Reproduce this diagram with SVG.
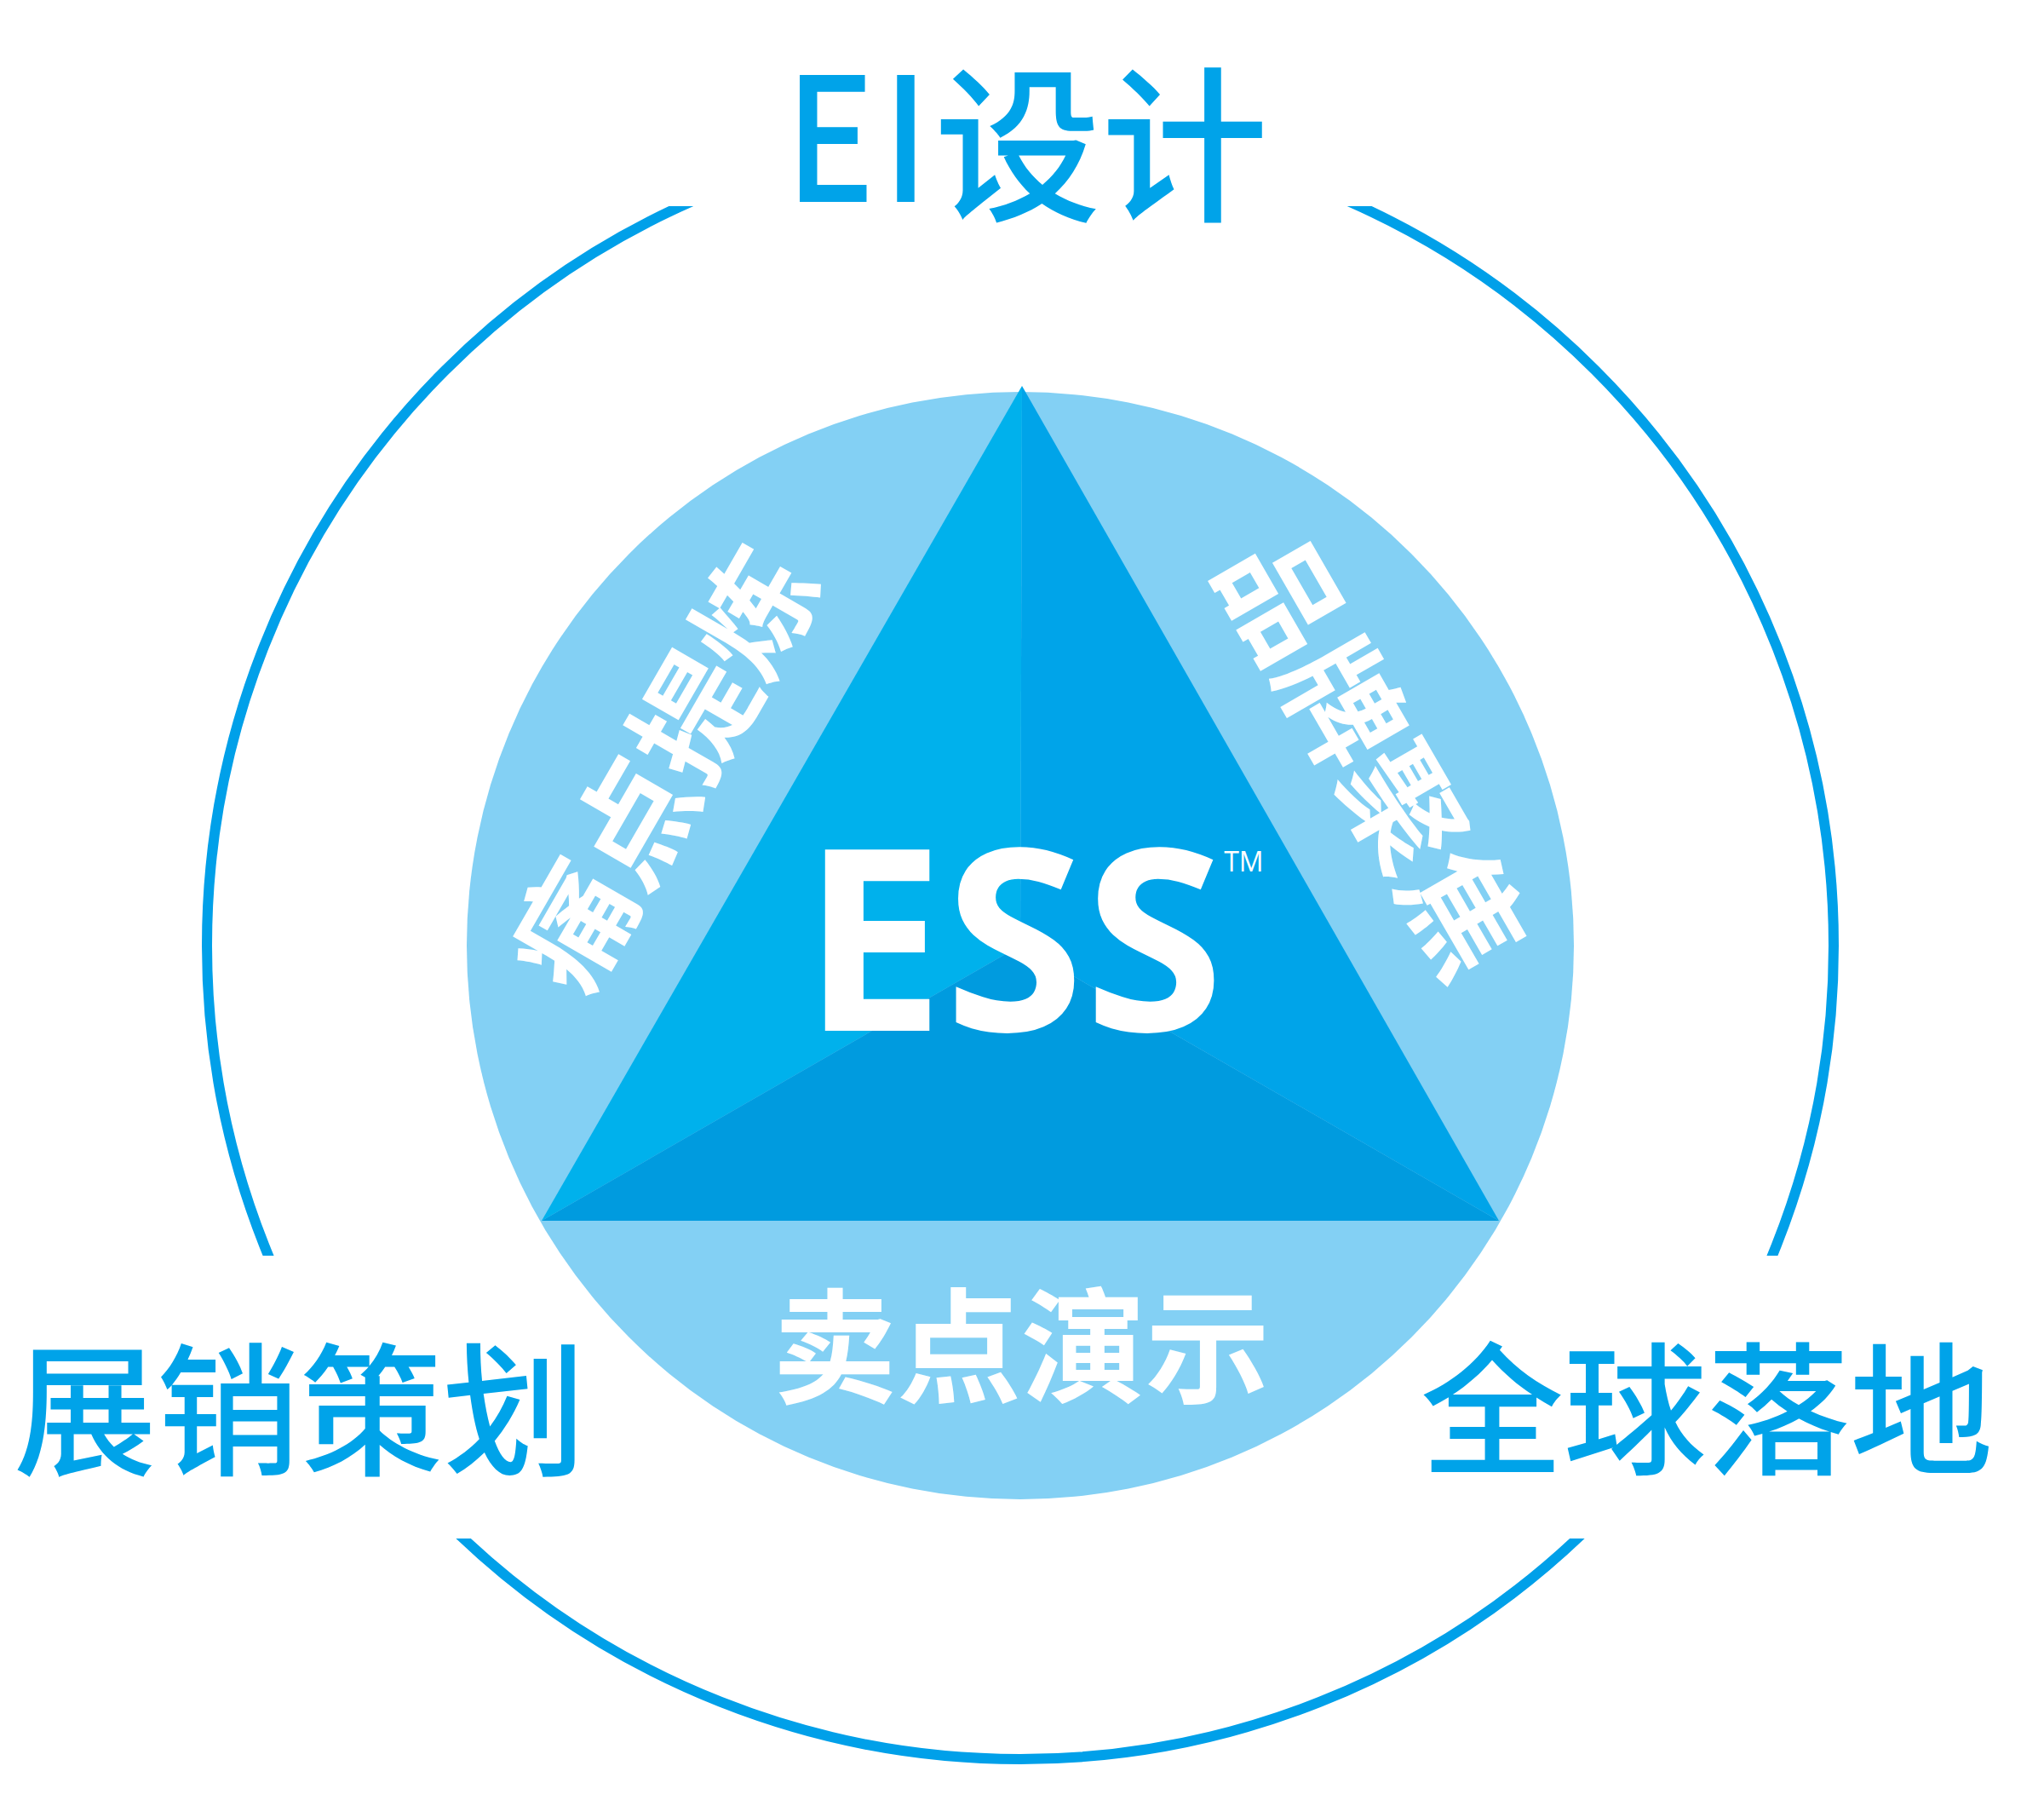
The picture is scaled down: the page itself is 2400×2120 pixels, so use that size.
<svg xmlns="http://www.w3.org/2000/svg" width="2400" height="2120" viewBox="0 0 2400 2120">
  <defs>
    <clipPath id="ringClip">
      <rect x="0" y="242" width="2400" height="1232"/>
      <rect x="0" y="1806" width="2400" height="314"/>
    </clipPath>
    <style>
      .cjk { font-family: "Noto Sans CJK SC", "Noto Sans", sans-serif; }
      .label { fill: #00a3e9; font-weight: 500; text-anchor: middle; dominant-baseline: central; }
      .white { fill: #ffffff; font-weight: 700; text-anchor: middle; dominant-baseline: central; }
    </style>
  </defs>
  <rect width="2400" height="2120" fill="#ffffff"/>

  <g id="ring">
    <circle cx="1198" cy="1110" r="955" fill="none" stroke="#00a0e9" stroke-width="12" clip-path="url(#ringClip)"/>
  </g>

  <g id="disc">
    <circle cx="1198" cy="1110" r="650" fill="#83d0f4"/>
  </g>

  <g id="triangle">
    <polygon points="1200,453 636,1433 1198,1110" fill="#00b1ec"/>
    <polygon points="1200,453 1760,1433 1198,1110" fill="#00a4e9"/>
    <polygon points="636,1433 1760,1433 1198,1110" fill="#009bdf"/>
  </g>

  <g id="ess">
    <text x="942" y="1210" font-family="'Open Sans', 'Liberation Sans', sans-serif" font-weight="700" font-size="298" fill="#ffffff">ESS<tspan dx="0" dy="-187" font-size="32" font-weight="400">TM</tspan></text>
  </g>

  <g id="node-pain">
    <text class="cjk white" x="772" y="898" font-size="142" transform="rotate(-60 772 898)">痛点提炼</text>
  </g>
  <g id="node-brand">
    <text class="cjk white" x="1620" y="882" font-size="142" transform="rotate(60 1620 882)">品牌聚焦</text>
  </g>
  <g id="node-demo">
    <text class="cjk white" x="1199" y="1571" font-size="146">卖点演示</text>
  </g>

  <g id="node-ei">
    <text class="cjk" x="0" y="237" font-size="202" font-weight="500" fill="#00a3e9" letter-spacing="10" transform="translate(922 0) scale(0.87 1)">EI</text>
    <text class="cjk label" x="1293" y="158" font-size="196">设计</text>
  </g>
  <g id="node-plan">
    <text class="cjk label" x="352" y="1645" font-size="168">展销策划</text>
  </g>
  <g id="node-global">
    <text class="cjk label" x="2004" y="1644" font-size="168">全球落地</text>
  </g>

  <g id="connectors"></g>
</svg>
